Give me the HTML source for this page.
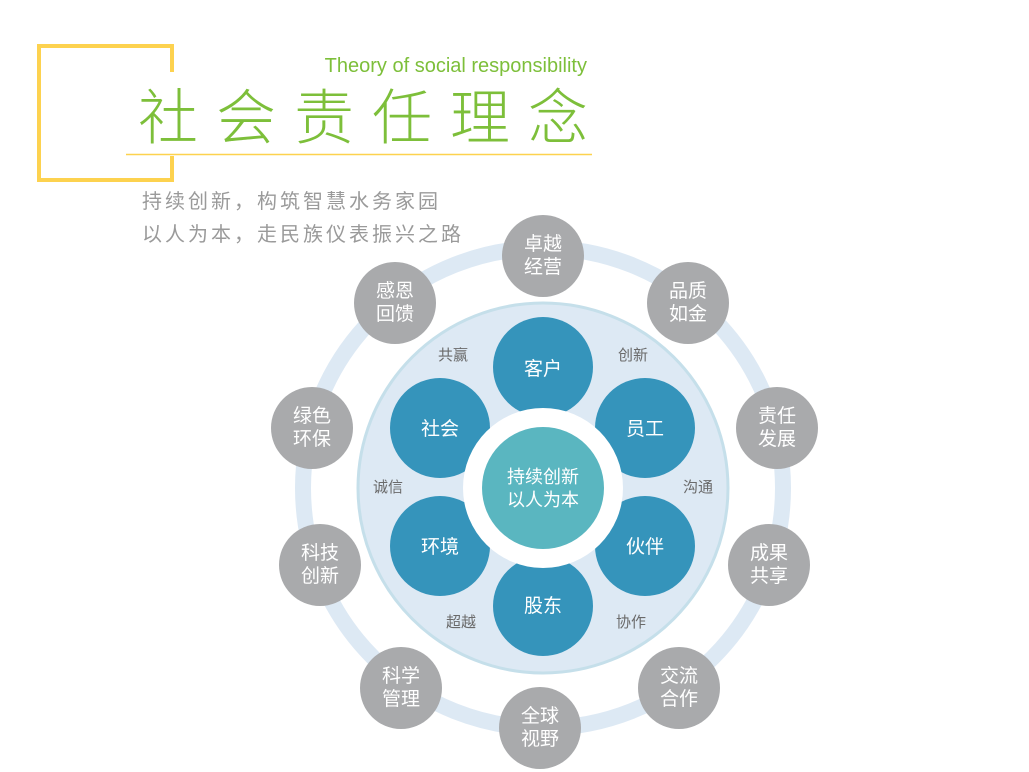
<!DOCTYPE html>
<html><head><meta charset="utf-8"><style>
html,body{margin:0;padding:0;background:#fff;}
svg{display:block}
text{font-family:"Liberation Sans","Noto Sans CJK SC",sans-serif;}
</style></head><body>
<svg width="1029" height="772" viewBox="0 0 1029 772" xmlns="http://www.w3.org/2000/svg">
<path d="M172 72 V46 H39 V180 H172 V156" fill="none" stroke="#fdd24f" stroke-width="4"/>
<line x1="126" y1="154.5" x2="592" y2="154.5" stroke="#fdd24f" stroke-width="1.5"/>
<text x="587" y="72" font-size="20" fill="#7dbf3a" text-anchor="end">Theory of social responsibility</text>
<text x="138" y="139" font-size="60" fill="#7dbf3a" letter-spacing="18" font-weight="300">社会责任理念</text>
<text x="142" y="208" font-size="20" fill="#9a9a9a" letter-spacing="3">持续创新，构筑智慧水务家园</text>
<text x="142" y="241" font-size="20" fill="#9a9a9a" letter-spacing="3">以人为本，走民族仪表振兴之路</text>

<circle cx="543" cy="488" r="240" fill="none" stroke="#dde9f4" stroke-width="16"/>
<circle cx="543" cy="488" r="185" fill="#dde9f4" stroke="#c5dfea" stroke-width="3"/>
<g fill="#3594bb">
<circle cx="543" cy="367" r="50"/>
<circle cx="440" cy="428" r="50"/>
<circle cx="645" cy="428" r="50"/>
<circle cx="440" cy="546" r="50"/>
<circle cx="645" cy="546" r="50"/>
<circle cx="543" cy="606" r="50"/>
</g>
<circle cx="543" cy="488" r="80" fill="#fff"/>
<circle cx="543" cy="488" r="61" fill="#5ab6c0"/>
<g fill="#fff" font-size="19" text-anchor="middle">
<text x="543" y="375">客户</text>
<text x="440" y="435">社会</text>
<text x="645" y="435">员工</text>
<text x="440" y="553">环境</text>
<text x="645" y="553">伙伴</text>
<text x="543" y="612">股东</text>
<text x="543" y="483" font-size="18">持续创新</text>
<text x="543" y="506" font-size="18">以人为本</text>
</g>
<g fill="#6a6a6a" font-size="15" text-anchor="middle">
<text x="453" y="360">共赢</text>
<text x="633" y="360">创新</text>
<text x="388" y="492">诚信</text>
<text x="698" y="492">沟通</text>
<text x="461" y="627">超越</text>
<text x="631" y="627">协作</text>
</g>
<g fill="#a9aaac">
<circle cx="543" cy="256" r="41"/>
<circle cx="688" cy="303" r="41"/>
<circle cx="777" cy="428" r="41"/>
<circle cx="769" cy="565" r="41"/>
<circle cx="679" cy="688" r="41"/>
<circle cx="540" cy="728" r="41"/>
<circle cx="401" cy="688" r="41"/>
<circle cx="320" cy="565" r="41"/>
<circle cx="312" cy="428" r="41"/>
<circle cx="395" cy="303" r="41"/>
</g>
<g fill="#fff" font-size="19" text-anchor="middle">
<text x="543" y="250">卓越</text><text x="543" y="273">经营</text>
<text x="688" y="297">品质</text><text x="688" y="320">如金</text>
<text x="777" y="422">责任</text><text x="777" y="445">发展</text>
<text x="769" y="559">成果</text><text x="769" y="582">共享</text>
<text x="679" y="682">交流</text><text x="679" y="705">合作</text>
<text x="540" y="722">全球</text><text x="540" y="745">视野</text>
<text x="401" y="682">科学</text><text x="401" y="705">管理</text>
<text x="320" y="559">科技</text><text x="320" y="582">创新</text>
<text x="312" y="422">绿色</text><text x="312" y="445">环保</text>
<text x="395" y="297">感恩</text><text x="395" y="320">回馈</text>
</g>
</svg>
</body></html>
